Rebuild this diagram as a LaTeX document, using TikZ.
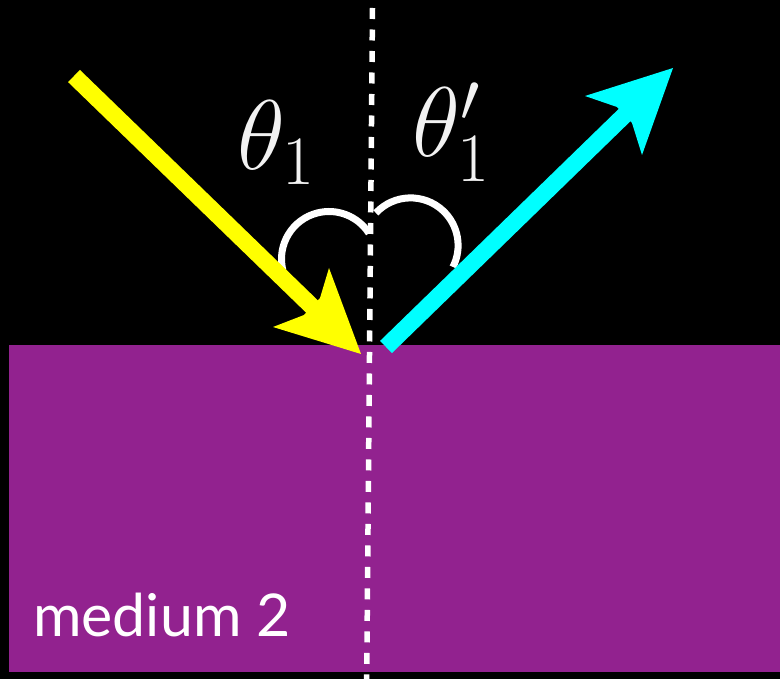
\documentclass[tikz,border=0pt]{standalone}
\usepackage{fix-cm}
\usepackage{fontspec}
\newfontfamily\labelfont{Lato}
\usetikzlibrary{calc}
\definecolor{mediumpurple}{RGB}{146,34,143}
\definecolor{rayyellow}{RGB}{255,255,0}
\definecolor{raycyan}{RGB}{0,255,255}
\definecolor{labelwhite}{RGB}{242,242,242}
\tikzset{
  normalline/.style={draw=white, line width=5.5pt, dash pattern=on 11pt off 10.5pt},
  anglearc/.style={draw=white, line width=7pt},
  shaft/.style={line width=17pt, line cap=butt},
  anglelabel/.style={text=labelwhite, inner sep=0pt, font=\fontsize{99}{110}\selectfont},
  mediumlabel/.style={text=white, inner sep=0pt, font=\labelfont\fontsize{59}{66}\selectfont}
}
\begin{document}
\begin{tikzpicture}[x=1pt,y=-1pt]
\fill[black] (0,0) rectangle (780,679);
\useasboundingbox (0,0) rectangle (780,679);
% medium 2 region
\fill[mediumpurple] (9,345) rectangle (780,672);
% normal line
\coordinate (ntop) at (372.5,8);
\coordinate (nbot) at (366.7,679);
\draw[normalline] (ntop) -- (nbot);
% angle arcs
\coordinate (c1) at (329,259);
\coordinate (c2) at (410.6,245.4);
\draw[anglearc] ($(c1)+(166.2:47.5)$) arc[start angle=166.2, end angle=327.3, radius=47.5];
\draw[anglearc] ($(c2)+(223.1:47.5)$) arc[start angle=223.1, end angle=387, radius=47.5];
% incident ray
\coordinate (ytail) at (74,76);
\coordinate (ytip) at (361,354);
\coordinate (yb1) at (273,327);
\coordinate (yn1) at (304,315);
\coordinate (yn2) at (320,298);
\coordinate (yb2) at (329,268);
\draw[shaft, rayyellow] (ytail) -- ($(ytail)!0.85!(ytip)$);
\fill[rayyellow] (ytip) -- (yb1) -- (yn1) -- (yn2) -- (yb2) -- cycle;
% reflected ray
\coordinate (ctail) at (386,347);
\coordinate (ctip) at (673,68);
\coordinate (cb1) at (585,96);
\coordinate (cn1) at (617,107);
\coordinate (cn2) at (632,123);
\coordinate (cb2) at (642,155);
\draw[shaft, raycyan] (ctail) -- ($(ctail)!0.85!(ctip)$);
\fill[raycyan] (ctip) -- (cb1) -- (cn1) -- (cn2) -- (cb2) -- cycle;
% labels
\node[anglelabel, anchor=base west] (th1) at (237,170) {$\theta_1$};
\node[anglelabel, anchor=base west] (th1p) at (412,157) {$\theta'_1$};
\node[mediumlabel, anchor=base west] (med) at (33,636) {medium 2};
\end{tikzpicture}
\end{document}
